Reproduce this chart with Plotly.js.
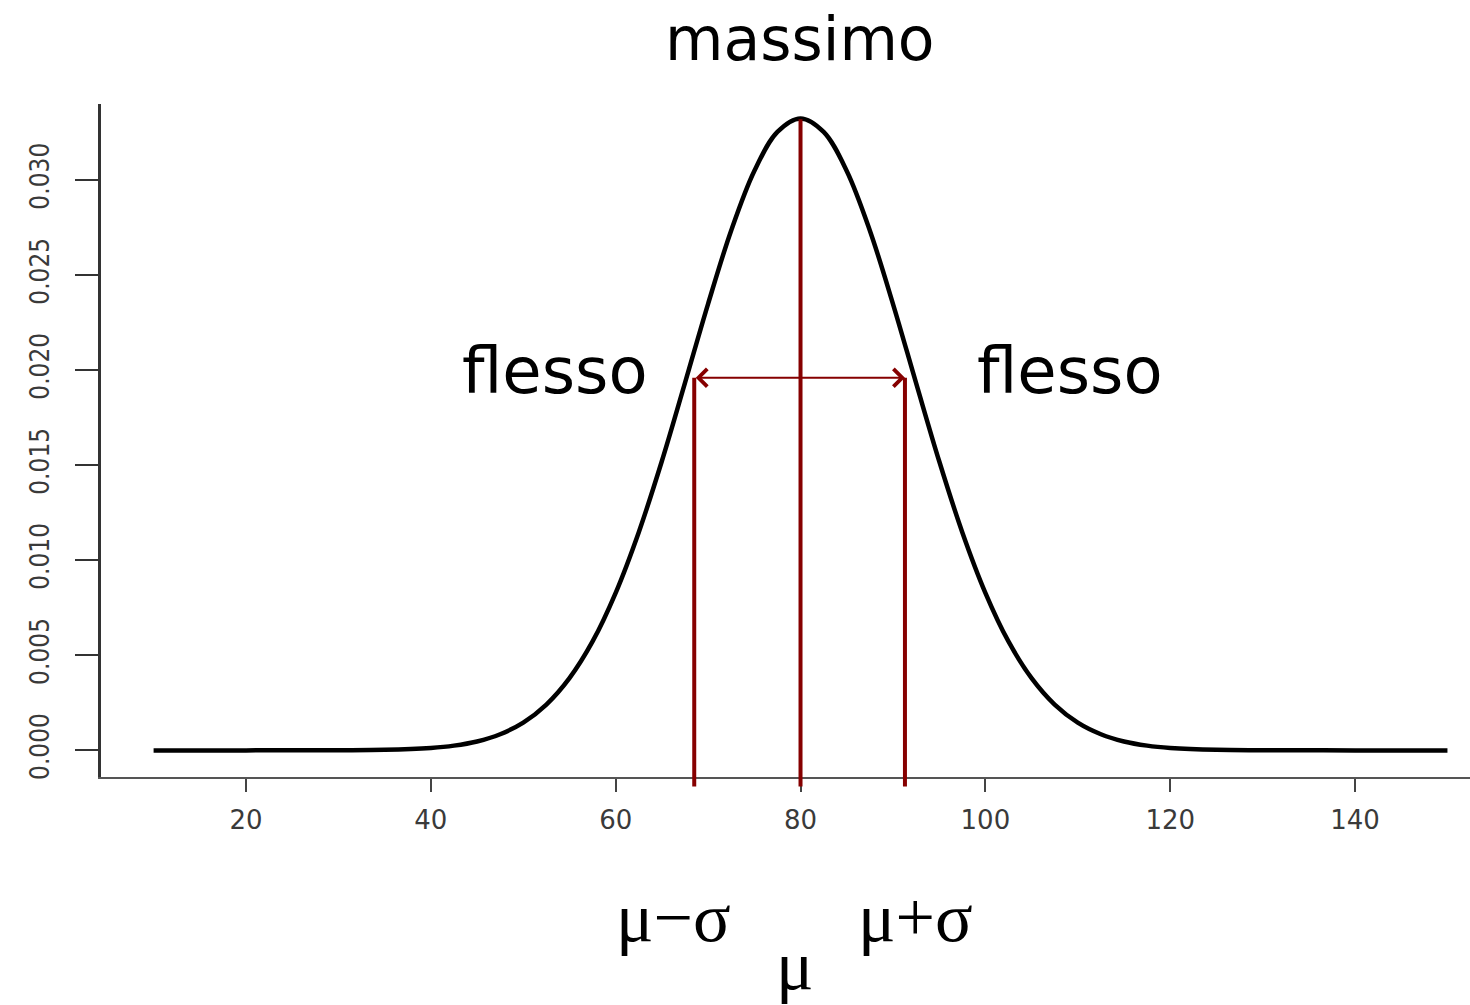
<!DOCTYPE html>
<html>
<head>
<meta charset="utf-8">
<script src="https://cdn.plot.ly/plotly-3.0.1.min.js"></script>
<style>
    body { margin: 0; background: #fff; }
    #grafico { width: 1470px; height: 1005px; }
</style>
</head>
<body>
<div id="grafico"></div>
<script>
// Curva della densità normale
const curvaX = [10, 20, 30, 35, 40, 42.5, 45, 47.5, 50, 52.5, 55, 57.5, 60, 62.5, 65, 67.5, 70, 72.5, 75, 77.5,
    80, 82.5, 85, 87.5, 90, 92.5, 95, 97.5, 100, 102.5, 105, 107.5, 110, 112.5, 115, 117.5, 120, 125, 130, 140, 150];
const curvaY = [0, 0, 0.00001, 0.00003, 0.00013, 0.00025, 0.00047, 0.00085, 0.00146, 0.00241, 0.0038, 0.00573, 0.00829,
    0.01148, 0.01522, 0.01933, 0.02349, 0.02735, 0.03048, 0.03253,
    0.03324, 0.03253, 0.03048, 0.02735, 0.02349, 0.01933, 0.01522, 0.01148, 0.00829, 0.00573, 0.0038, 0.00241,
    0.00146, 0.00085, 0.00047, 0.00025, 0.00013, 0.00003, 0.00001, 0, 0];

// Linee verticali: mu - sigma, mu, mu + sigma
const lineeX = [68.5, 80, 91.3];
const lineeTop = [0.0196, 0.0332, 0.0196];
const lineaBase = -0.0019;
const frecciaY = 0.0196;

// Tick degli assi
const tickX = [20, 40, 60, 80, 100, 120, 140];
const tickY = [0, 0.005, 0.01, 0.015, 0.02, 0.025, 0.03];
const tickYtesto = ['0.000', '0.005', '0.010', '0.015', '0.020', '0.025', '0.030'];

const rangeX = [4.31, 152.44];
const rangeY = [-0.0014, 0.034];

const rosso = '#860000';

const config = {
    displayModeBar: false
}

// converte un valore y in coordinate "paper" (per far uscire le linee sotto l'asse)
function toPaper(v) {
    return (v - rangeY[0]) / (rangeY[1] - rangeY[0]);
}

var curva = {
    x: curvaX,
    y: curvaY,
    type: 'scatter',
    mode: 'lines',
    line: { color: '#000', width: 4.5, shape: 'spline', smoothing: 1 },
    hoverinfo: 'skip'
}

var linee = lineeX.map((x, i) => {
    return {
        type: 'line',
        xref: 'x',
        yref: 'paper',
        x0: x,
        x1: x,
        y0: toPaper(lineaBase),
        y1: toPaper(lineeTop[i]),
        line: { color: rosso, width: 4 }
    }
});

const fontMano = '"Comic Sans MS", "DejaVu Sans", sans-serif';
const fontSerif = '"Liberation Serif", "Times New Roman", serif';

var testi = [
    { text: 'massimo', x: 0.5106, y: 1.096, size: 60, font: fontMano },
    { text: 'flesso', x: 0.3316, y: 0.6033, size: 64, font: fontMano },
    { text: 'flesso', x: 0.7078, y: 0.6033, size: 64, font: fontMano },
    { text: 'μ−σ', x: 0.4182, y: -0.2095, size: 70, font: fontSerif },
    { text: 'μ', x: 0.5069, y: -0.2808, size: 70, font: fontSerif },
    { text: 'μ+σ', x: 0.5946, y: -0.2095, size: 70, font: fontSerif }
].map(t => {
    return {
        text: t.text,
        xref: 'paper',
        yref: 'paper',
        x: t.x,
        y: t.y,
        xanchor: 'center',
        yanchor: 'middle',
        showarrow: false,
        font: { family: t.font, size: t.size, color: '#000' }
    }
});

// Freccia doppia tra i due flessi
testi.push({
    text: '',
    x: lineeX[2],
    y: frecciaY,
    ax: lineeX[0],
    ay: frecciaY,
    xref: 'x',
    yref: 'y',
    axref: 'x',
    ayref: 'y',
    showarrow: true,
    arrowside: 'end+start',
    arrowhead: 4,
    startarrowhead: 4,
    arrowsize: 1.7,
    startarrowsize: 1.7,
    arrowwidth: 2,
    arrowcolor: rosso,
    standoff: 0,
    startstandoff: 0
});

const layout = {
    width: 1470,
    height: 1005,
    margin: { l: 101, r: 0, t: 104, b: 228 },
    paper_bgcolor: '#fff',
    plot_bgcolor: '#fff',
    showlegend: false,
    xaxis: {
        range: rangeX,
        tickvals: tickX,
        ticks: 'outside',
        ticklen: 13,
        tickwidth: 2,
        tickcolor: '#444',
        showline: true,
        linecolor: '#555',
        linewidth: 2,
        showgrid: false,
        zeroline: false,
        ticklabelstandoff: 6,
        tickfont: { family: '"DejaVu Sans", sans-serif', size: 26, color: '#3a3a3a' }
    },
    yaxis: {
        range: rangeY,
        tickvals: tickY,
        ticktext: tickYtesto,
        tickangle: -90,
        ticks: 'outside',
        ticklen: 23,
        tickwidth: 2,
        tickcolor: '#333',
        showline: true,
        linecolor: '#333',
        linewidth: 2.5,
        showgrid: false,
        zeroline: false,
        ticklabelstandoff: 16,
        tickfont: { family: '"Liberation Sans Narrow", "DejaVu Sans Condensed", sans-serif', size: 26, color: '#3a3a3a' }
    },
    shapes: linee,
    annotations: testi
};

Plotly.newPlot('grafico', [curva], layout, config);
</script>
</body>
</html>
